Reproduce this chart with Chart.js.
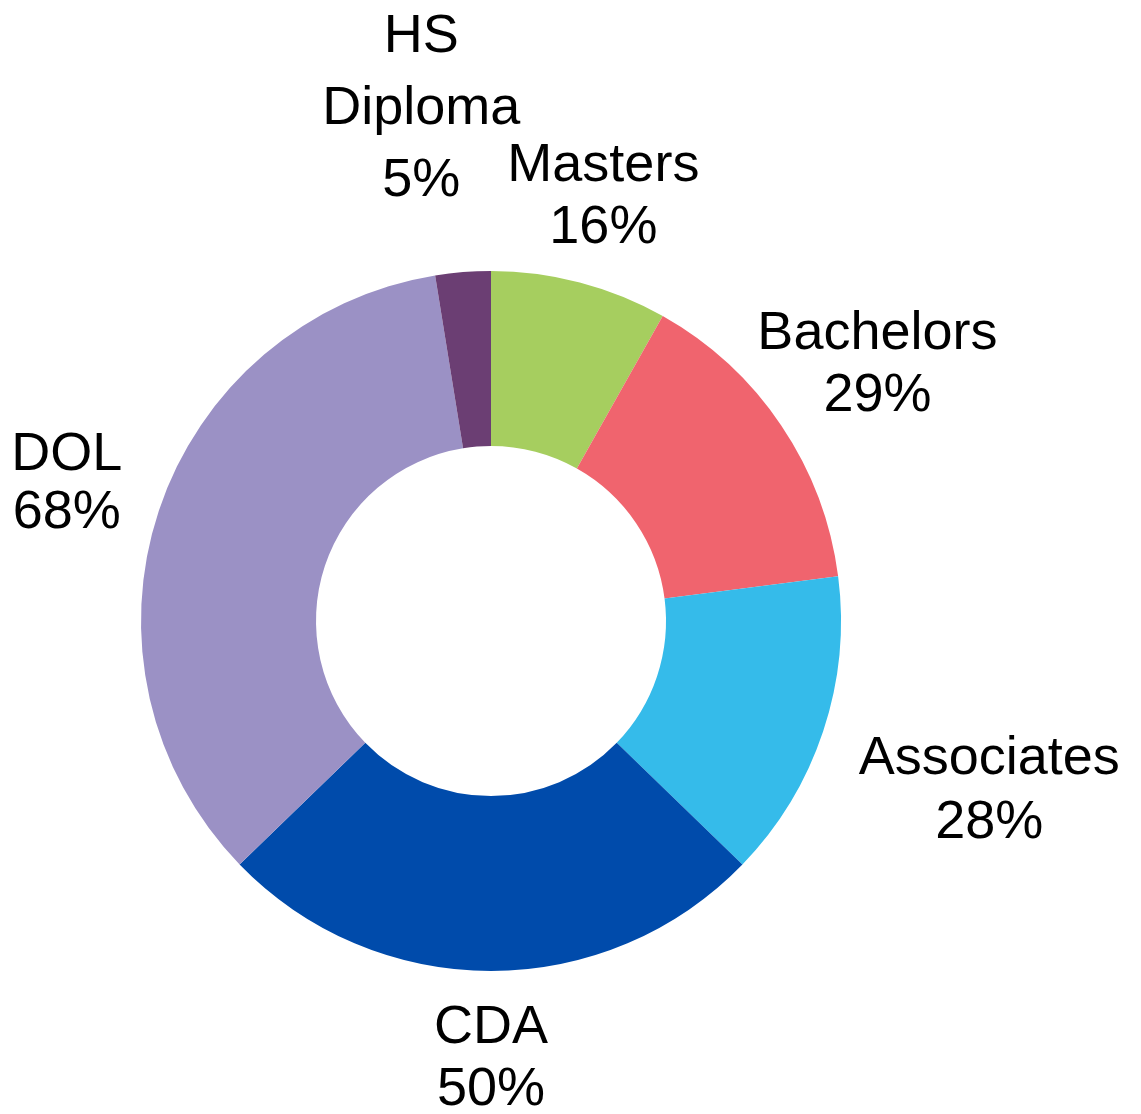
<!DOCTYPE html>
<html>
<head>
<meta charset="utf-8">
<title>Credentials</title>
<script src="https://cdn.jsdelivr.net/npm/chart.js@4.4.1/dist/chart.umd.min.js"></script>
<style>
  html, body { margin:0; padding:0; background:#fff; }
  #wrap { width:1141px; height:1114px; }
</style>
</head>
<body>
<div id="wrap"><canvas id="chart" width="1141" height="1114"></canvas></div>
<script>
// slices go clockwise from 12 o'clock, same order as the source
const categories = ['Masters', 'Bachelors', 'Associates', 'CDA', 'DOL', 'HS Diploma'];
const values = [16, 29, 28, 50, 68, 5];
const colors = ['#a6ce5f', '#f0646e', '#35bbea', '#004bab', '#9b91c5', '#6b3e73'];

// label lines (HS Diploma wraps onto two lines)
const labelLines = [['Masters'], ['Bachelors'], ['Associates'], ['CDA'], ['DOL'], ['HS', 'Diploma']];

// how far each label sits from the centre, and small angle nudge (deg)
const labelDist = [443, 466, 525, 434, 447, 521];
const labelNudge = [0, 0, 0, 0, 0, -3.1];
const labelLineHeight = [62, 62, 64, 62, 58, 72];

const FONT_SIZE = 54;
const CAP = FONT_SIZE * 0.716;

const outsideLabels = {
  id: 'outsideLabels',
  afterDraw(chart){
    const ctx = chart.ctx;
    const meta = chart.getDatasetMeta(0);
    ctx.save();
    ctx.fillStyle = '#000';
    ctx.font = FONT_SIZE + 'px "Liberation Sans", Arial, sans-serif';
    ctx.textAlign = 'center';
    ctx.textBaseline = 'alphabetic';
    meta.data.forEach((arc, i)=>{
      const p = arc.getProps(['x','y','startAngle','endAngle'], true);
      const mid = (p.startAngle + p.endAngle)/2 + labelNudge[i]*Math.PI/180;
      const cx = p.x + Math.cos(mid)*labelDist[i];
      const cy = p.y + Math.sin(mid)*labelDist[i];
      const lines = labelLines[i].concat([values[i] + '%']);
      const lh = labelLineHeight[i];
      const blockH = (lines.length-1)*lh + CAP;
      let y = cy - blockH/2 + CAP;
      lines.forEach(t=>{
        ctx.fillText(t, cx, y);
        y += lh;
      });
    });
    ctx.restore();
  }
};

new Chart(document.getElementById('chart').getContext('2d'), {
  type: 'doughnut',
  data: {
    labels: categories,
    datasets: [{
      data: values,
      backgroundColor: colors,
      borderWidth: 0
    }]
  },
  options: {
    responsive: false,
    animation: false,
    cutout: '50%',
    layout: { padding: { left: 141, right: 300, top: 271, bottom: 143 } },
    plugins: {
      legend: { display: false },
      tooltip: { enabled: false }
    }
  },
  plugins: [outsideLabels]
});
</script>
</body>
</html>
